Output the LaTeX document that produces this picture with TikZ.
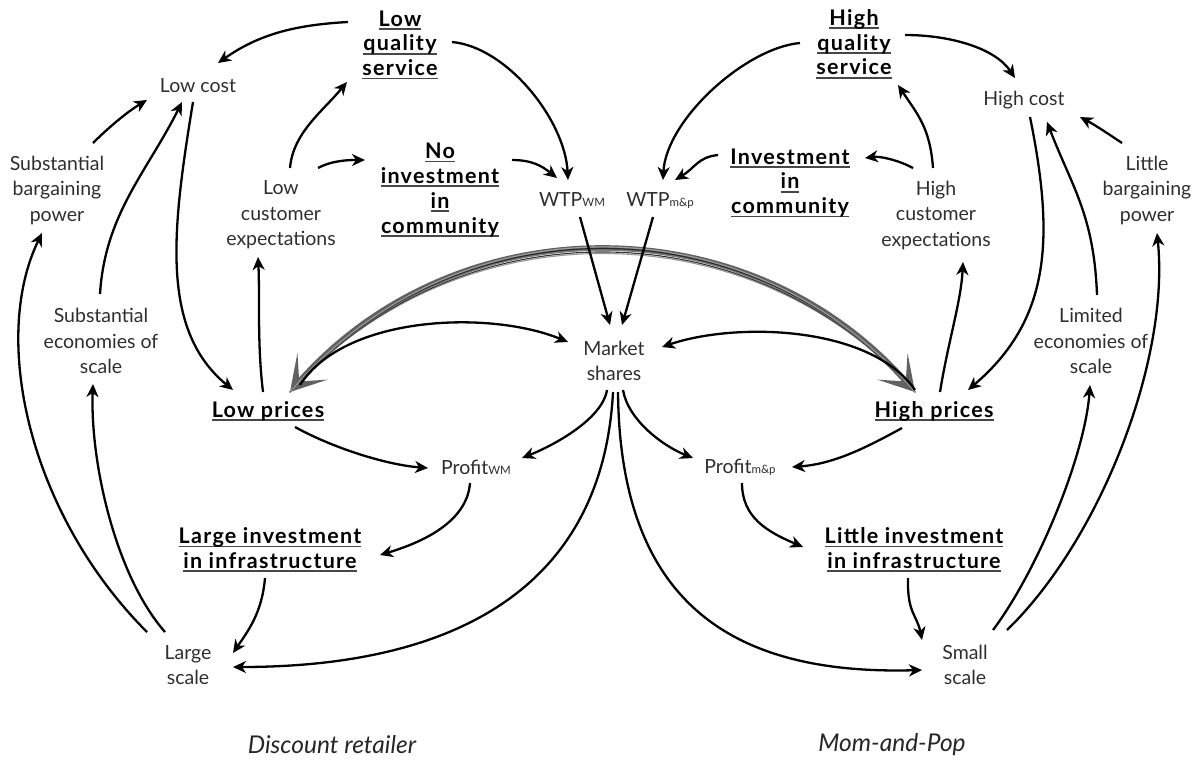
\documentclass[tikz,border=0pt]{standalone}
\usepackage{fontspec}
\setmainfont{Lato}
\newfontfamily\keyfont{Lato}[LetterSpace=6]
\usetikzlibrary{arrows.meta}

% bold, underlined key factor
\newcommand{\ulb}[1]{\setbox0\hbox{\bfseries #1}\rlap{\color{black!72}\rule[-3.6pt]{\wd0}{1.8pt}}\box0}
% small index after a symbol
\newcommand{\idx}[1]{{\fontsize{11.5}{11.5}\selectfont #1}}

\begin{document}
\begin{tikzpicture}[x=1pt,y=1pt,
  lbl/.style={align=center, inner sep=0pt, text=black!82,
    font=\fontsize{19.5}{25.5}\selectfont},
  key/.style={align=center, inner sep=0pt, text=black,
    font=\keyfont\fontsize{21.5}{24.8}\selectfont},
  sidecaption/.style={inner sep=0pt, text=black!85,
    font=\fontsize{24.5}{28}\selectfont\itshape},
  arr/.style={-{Stealth[length=13pt,width=12pt,inset=4pt]}, line width=2.3pt},
  contest/.style={{Stealth[length=34pt,width=40pt,inset=20pt]}-{Stealth[length=34pt,width=40pt,inset=20pt]},
    draw=black!62, line width=5.5pt},
  strand/.style={line width=1.1pt, line cap=round}
]
\useasboundingbox (0,0) rectangle (1198,-761);

% ---------- discount retailer side ----------
\node[key] (lqs) at (400,-45) {\ulb{Low}\\\ulb{quality}\\\ulb{service}};
\node[lbl] (lcost) at (198,-86) {Low cost};
\node[lbl] (sbp) at (57,-190) {Substantial\\bargaining\\power};
\node[lbl] (lce) at (281,-215) {Low\\customer\\expectations};
\node[key] (nic) at (440,-190) {\ulb{No}\\\ulb{investment}\\\ulb{in}\\\ulb{community}};
\node[lbl] (ses) at (101,-341) {Substantial\\economies of\\scale};
\node[key] (lp) at (268,-411) {\ulb{Low prices}};
\node[lbl] (pw) at (476,-467) {Profit\idx{WM}};
\node[key] (lii) at (270,-550) {\ulb{Large investment}\\\ulb{in infrastructure}};
\node[lbl] (lsc) at (188,-665) {Large\\scale};
\node[sidecaption] (dr) at (332,-745) {Discount retailer};

% ---------- shared ----------
\node[lbl] (wtpw) at (572,-200) {WTP\idx{WM}};
\node[lbl] (wtpm) at (660,-200) {WTP\idx{m\&p}};
\node[lbl] (ms) at (614,-361) {Market\\shares};

% ---------- mom-and-pop side ----------
\node[key] (hqs) at (854,-44) {\ulb{High}\\\ulb{quality}\\\ulb{service}};
\node[lbl] (hcost) at (1024,-100) {High cost};
\node[key] (inc) at (790,-183) {\ulb{Investment}\\\ulb{in}\\\ulb{community}};
\node[lbl] (hce) at (936,-215) {High\\customer\\expectations};
\node[lbl] (lbp) at (1147,-190) {Little\\bargaining\\power};
\node[lbl] (les) at (1091,-341) {Limited\\economies of\\scale};
\node[key] (hp) at (934,-411) {\ulb{High prices}};
\node[lbl] (pm) at (740,-467) {Profit\idx{m\&p}};
\node[key] (lit) at (914,-550) {\ulb{Little investment}\\\ulb{in infrastructure}};
\node[lbl] (ssc) at (965,-665) {Small\\scale};
\node[sidecaption] (mp) at (892,-745) {Mom-and-Pop};

% ---------- price competition between the two (drawn first, underneath) ----------
\draw[contest] ([shift={(22,19)}]lp.center) .. controls +(166,189) and +(-166,189) .. ([shift={(-19,19)}]hp.center);
% loose strands along the band give it a hand-drawn edge
\foreach \d/\c in {-3.4/black!40, -1.8/black!80, 0.3/black!52, 1.9/black!84, 3.5/black!38} {
  \draw[strand, \c] ([shift={(22,19)}]lp.center) .. controls +(166,189+1.3*\d) and +(-166,189+1.25*\d) .. ([shift={(-19,19)}]hp.center);
}

% ---------- links, discount retailer ----------
\draw[arr] ([shift={(-52,23)}]lqs.center) .. controls +(-55,-3) and +(40,28) .. ([shift={(20,23)}]lcost.center);
\draw[arr] ([shift={(52,3)}]lqs.center) .. controls +(55,-5) and +(-3,60) .. ([shift={(-4,20)}]wtpw.center);
\draw[arr] ([shift={(9,47)}]lce.center) .. controls +(3,35) and +(-25,-30) .. ([shift={(-53,-37)}]lqs.center);
\draw[arr] ([shift={(37,47)}]lce.center) .. controls +(15,8) and +(-15,0) .. ([shift={(-75,30)}]nic.center);
\draw[arr] ([shift={(72,30)}]nic.center) .. controls +(20,0) and +(-15,12) .. ([shift={(-15,22)}]wtpw.center);
\draw[arr] ([shift={(-5,-16)}]lcost.center) .. controls +(-21,-128) and +(-73,60) .. ([shift={(-35,21)}]lp.center);
\draw[arr] ([shift={(-5,19)}]lp.center) .. controls +(-6,50) and +(2,-40) .. ([shift={(-23,-42)}]lce.center);
\draw[arr] ([shift={(36,47)}]sbp.center) .. controls +(15,15) and +(-20,-12) .. ([shift={(-51,-14)}]lcost.center);
\draw[arr] ([shift={(-1,47)}]ses.center) .. controls +(5,80) and +(-35,-70) .. ([shift={(-16,-16)}]lcost.center);
\draw[arr] ([shift={(-41,33)}]lsc.center) .. controls +(-117,117) and +(-52,-107) .. ([shift={(-15,-43)}]sbp.center);
\draw[arr] ([shift={(-23,33)}]lsc.center) .. controls +(-50,57) and +(-3,-77) .. ([shift={(-8,-43)}]ses.center);
\draw[arr] ([shift={(27,-16)}]lp.center) .. controls +(40,-22) and +(-40,3) .. ([shift={(-48,-1)}]pw.center);
\draw[arr] ([shift={(-6,-16)}]pw.center) .. controls +(-3,-40) and +(40,12) .. ([shift={(110,-5)}]lii.center);
\draw[arr] ([shift={(-5,-28)}]lii.center) .. controls +(-3,-35) and +(15,22) .. ([shift={(45,12)}]lsc.center);

% ---------- links, market shares ----------
\draw[arr] ([shift={(32,26)}]lp.center) .. controls +(45,70) and +(-78,32) .. ([shift={(-46,19)}]ms.center);
\draw[arr] ([shift={(-19,21)}]hp.center) .. controls +(-45,65) and +(73,25) .. ([shift={(48,14)}]ms.center);
\draw[arr] ([shift={(8,-17)}]wtpw.center) -- ([shift={(-4,36)}]ms.center);
\draw[arr] ([shift={(-7,-17)}]wtpm.center) -- ([shift={(8,36)}]ms.center);
\draw[arr] ([shift={(-7,-29)}]ms.center) .. controls +(-5,-30) and +(30,12) .. ([shift={(46,9)}]pw.center);
\draw[arr] ([shift={(9,-29)}]ms.center) .. controls +(5,-30) and +(-30,12) .. ([shift={(-47,9)}]pm.center);
\draw[arr] ([shift={(-1,-31)}]ms.center) .. controls +(-10,-190) and +(230,0) .. ([shift={(45,-2)}]lsc.center);
\draw[arr] ([shift={(4,-31)}]ms.center) .. controls +(2,-218) and +(-182,-5) .. ([shift={(-43,-5)}]ssc.center);

% ---------- links, mom-and-pop ----------
\draw[arr] ([shift={(-72,28)}]inc.center) .. controls +(-20,-2) and +(20,12) .. ([shift={(15,20)}]wtpm.center);
\draw[arr] ([shift={(-54,1)}]hqs.center) .. controls +(-55,-5) and +(3,60) .. ([shift={(3,20)}]wtpm.center);
\draw[arr] ([shift={(51,9)}]hqs.center) .. controls +(45,0) and +(-20,30) .. ([shift={(-9,22)}]hcost.center);
\draw[arr] ([shift={(-3,47)}]hce.center) .. controls +(-3,40) and +(20,-30) .. ([shift={(44,-41)}]hqs.center);
\draw[arr] ([shift={(-23,47)}]hce.center) .. controls +(-15,8) and +(15,2) .. ([shift={(75,25)}]inc.center);
\draw[arr] ([shift={(6,-17)}]hcost.center) .. controls +(25,-123) and +(82,70) .. ([shift={(34,21)}]hp.center);
\draw[arr] ([shift={(6,19)}]hp.center) .. controls +(8,50) and +(-2,-40) .. ([shift={(27,-47)}]hce.center);
\draw[arr] ([shift={(6,46)}]les.center) .. controls +(-3,80) and +(25,-65) .. ([shift={(23,-22)}]hcost.center);
\draw[arr] ([shift={(-25,47)}]lbp.center) .. controls +(-15,10) and +(15,-8) .. ([shift={(56,-17)}]hcost.center);
\draw[arr] ([shift={(42,35)}]ssc.center) .. controls +(93,90) and +(13,-127) .. ([shift={(10,-43)}]lbp.center);
\draw[arr] ([shift={(28,35)}]ssc.center) .. controls +(45,60) and +(-5,-70) .. ([shift={(-1,-44)}]les.center);
\draw[arr] ([shift={(-32,-17)}]hp.center) .. controls +(-40,-22) and +(40,3) .. ([shift={(52,0)}]pm.center);
\draw[arr] ([shift={(2,-16)}]pm.center) .. controls +(0,-35) and +(-35,15) .. ([shift={(-111,3)}]lit.center);
\draw[arr] ([shift={(-6,-28)}]lit.center) .. controls +(-1,-35) and +(-5,25) .. ([shift={(-43,25)}]ssc.center);
\end{tikzpicture}
\end{document}
